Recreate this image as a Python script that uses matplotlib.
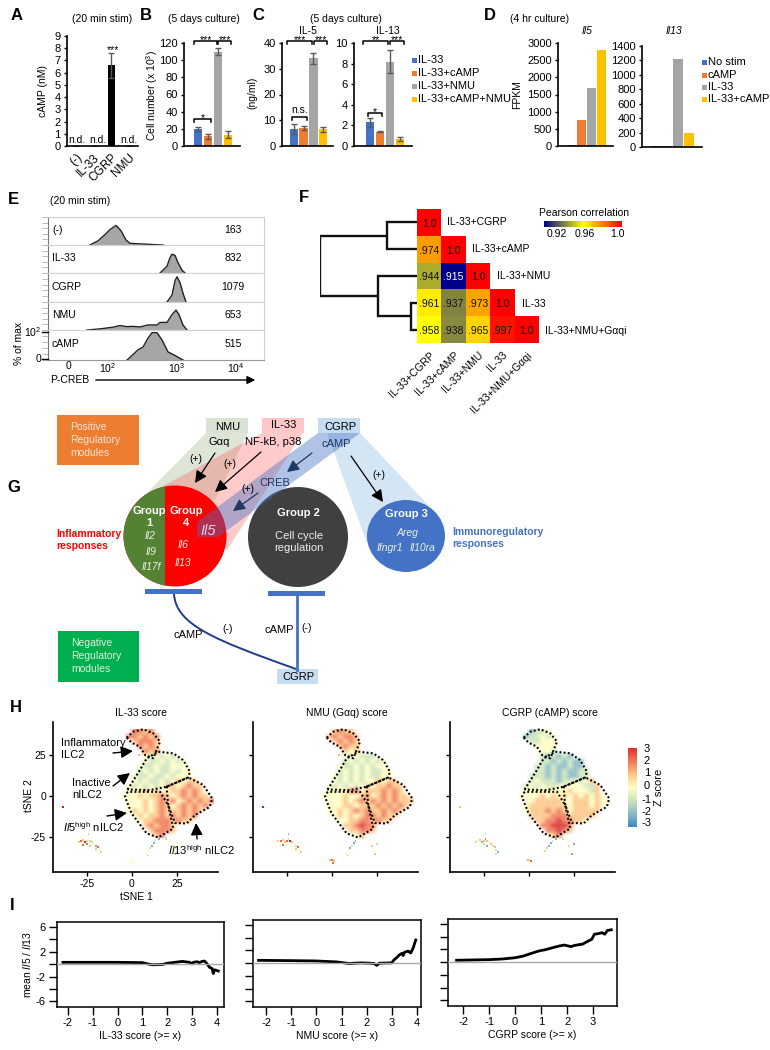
import numpy as np
import matplotlib
matplotlib.use("Agg")
import matplotlib.pyplot as plt
from matplotlib.colors import LinearSegmentedColormap
from matplotlib.patches import Rectangle, Ellipse, Polygon, PathPatch
from matplotlib.path import Path

plt.rcParams['font.family'] = ['Liberation Sans', 'DejaVu Sans']
plt.rcParams['mathtext.fontset'] = 'custom'
plt.rcParams['mathtext.rm'] = 'Liberation Sans'
plt.rcParams['mathtext.it'] = 'Liberation Sans:italic'
plt.rcParams['mathtext.bf'] = 'Liberation Sans:bold'
plt.rcParams['font.size'] = 7.5
plt.rcParams['axes.unicode_minus'] = False

W, H = 770, 1050
BLUE, ORANGE, GRAY, YELLOW = '#4472C4', '#ED7D31', '#A5A5A5', '#FFC000'
BAR_COLORS = [BLUE, ORANGE, GRAY, YELLOW]

# A
camp_labels = ['(-)', 'IL-33', 'CGRP', 'NMU']
camp_vals = [0, 0, 6.6, 0]
camp_err = [0, 0, 1.0, 0]
# B
cells_vals = [20, 11.5, 110, 13]
cells_err = [2.5, 3, 4, 4]
# C
il5_vals = [6.5, 7, 34, 6.5]
il5_err = [2, 0.8, 2.3, 1]
il13_vals = [2.3, 1.4, 8.2, 0.7]
il13_err = [0.45, 0.05, 1.1, 0.2]
c_legend = ['IL-33', 'IL-33+cAMP', 'IL-33+NMU', 'IL-33+cAMP+NMU']
# D
fpkm_il5 = [30, 750, 1700, 2800]
fpkm_il13 = [20, 20, 1220, 195]
d_legend = ['No stim', 'cAMP', 'IL-33', 'IL-33+cAMP']

# E, x in cytometer channels, y in % of max
e_names = ['(-)', 'IL-33', 'CGRP', 'NMU', 'cAMP']
e_mfi = ['163', '832', '1079', '653', '515']
e_x = [
    [21, 29, 36, 41, 47, 52, 57, 61, 71, 94],
    [91, 98, 101, 103, 106, 109, 113, 116],
    [98, 103, 106, 108, 111, 114, 117],
    [18, 31, 44, 51, 58, 64, 71, 79, 88, 91, 98, 103, 107, 110, 114, 118],
    [58, 64, 69, 74, 79, 83, 88, 93, 99, 106, 114],
]
e_y = [
    [0, 15, 37, 55, 70, 51, 18, 6, 4, 0],
    [0, 24, 55, 67, 63, 37, 10, 0],
    [0, 24, 73, 87, 67, 30, 0],
    [0, 4, 10, 16, 12, 13, 11, 18, 18, 27, 27, 55, 71, 55, 18, 0],
    [0, 18, 34, 43, 73, 91, 91, 67, 27, 15, 0],
]

# F
f_labels = ['IL-33+CGRP', 'IL-33+cAMP', 'IL-33+NMU', 'IL-33', 'IL-33+NMU+Gαqi']
f_corr = [
    [1.0, np.nan, np.nan, np.nan, np.nan],
    [.974, 1.0, np.nan, np.nan, np.nan],
    [.944, .915, 1.0, np.nan, np.nan],
    [.961, .937, .973, 1.0, np.nan],
    [.958, .938, .965, .997, 1.0],
]

# H, score maps: rows from tSNE2=39 down to -24 in steps of 3, columns from
# tSNE1=-4.5 in steps of 3, digit 0..6 stands for z score -3..3
h_il33 = [
    "..5545...........", ".554545..........", "..45554..........",
    "...5454..........", "....545..........", "....323232.......",
    "....32232323.....", "...322322333.....", "...2323223233....",
    "..32232232333....", "..323223234344...", ".32323234434544..",
    ".33343433445454..", "3334344543454544.", ".3334345453454545",
    ".333434543454545.", ".34343454445454..", "..343445454545...",
    "...3445554544....", "....454554.......", ".....45554.......",
    "......45.........",
]
h_nmu = [
    "..4544...........", ".454554..........", "..45454..........",
    "...4544..........", "....434..........", "....323222.......",
    "....23232323.....", "...322323233.....", "...2323232233....",
    "..32323232233....", "..323232334344...", ".32323234344544..",
    ".33335534445454..", "3333433453454544.", ".3334345454545444",
    ".333443444545454.", ".33434545445454..", "..343434554544...",
    "...3344554544....", "....445655.......", ".....44554.......",
    "......34.........",
]
h_cgrp = [
    "..1223...........", ".122323..........", "..22333..........",
    "...3333..........", "....332..........", "....212121.......",
    "....22121211.....", "...221211211.....", "...2212121122....",
    "..22212121122....", "..232221223234...", ".23232233333224..",
    ".33333333433324..", "3333434343434343.", ".3344444334443433",
    ".344444443444343.", ".34445454344444..", "..444455544444...",
    "...4455655443....", "....556665.......", ".....55654.......",
    "......45.........",
]
stray_x = [-30, -29, -28, -27, -26, -25, -24, -25, -23, -22, -21, -20, -19, -20, -18,
           -17, -18, -24, -27, -23, 8, 9, 10, 11, 12, 13, 15, 17, 19, 21, 22, 23, 25,
           24, 9, -1, 0, 1, 0.5, -38, 4, 8, -4]
stray_y = [-27, -28, -27, -26.5, -28, -27, -26, -29, -27.5, -28, -29, -30, -31, -32,
           -32.5, -34, -35, -23, -29.5, -30, -35, -33, -31.5, -30, -28.5, -27, -26,
           -25.5, -26, -27, -30, -33, -29, -35, -36, -38.5, -39, -39.5, -40.5, -6.5,
           25, 21, -17]
stray_il33 = "3454623542315432345433211212234334233336423"
stray_nmu = "4352452364325432315333121132334324245456423"
stray_cgrp = "3234145243424321223132211212232311324534323"

out_inflam = [(-2.9, 35.4), (0.7, 39), (6.2, 40.5), (11.8, 38), (15.5, 33), (13.6, 27.9),
              (11.8, 22.9), (7.2, 24.9), (4.4, 29.9), (-0.2, 32.4), (-2.9, 35.4)]
out_upper = [(-2.4, 4), (4.4, 15.8), (8.1, 22.9), (14.5, 26.9), (22.8, 25.9), (28.3, 21.8),
             (32, 14.8), (31.1, 11.3), (19.1, 5.7), (9.9, 3.6), (-2.4, 4)]
out_right = [(19.1, 5.7), (31.1, 11.3), (39.4, 6.7), (44.3, -1.4), (43, -6.5), (34.8, -11.5),
             (30.2, -16.6), (23.7, -16.2), (20, -5.5), (19.1, 5.7)]
out_lower = [(-2.4, 2.6), (-3.9, -0.4), (-0.2, -10.5), (8.1, -22.6), (14.5, -25.1),
             (22.8, -19.6), (20, -5.5), (15.5, 2.6), (-2.4, 2.6)]

# I
i1_x = [-2.2, -1, 0, 1.0, 1.2, 1.4, 1.8, 2.0, 2.2, 2.5, 2.6, 2.8, 2.9, 3.0, 3.05, 3.2, 3.3,
        3.4, 3.5, 3.6, 3.7, 3.8, 3.85, 3.9, 4.05]
i1_y = [.3, .3, .3, .25, .05, -.1, -.05, .15, .25, .4, .45, .35, .3, .05, .3, .4, .25, .45,
        .5, .05, -.5, -.7, -1.5, -.9, -1.1]
i2_x = [-2.3, -1, 0, .8, 1.0, 1.3, 1.5, 1.8, 2.1, 2.3, 2.4, 2.5, 3.0, 3.08, 3.2, 3.3, 3.4,
        3.45, 3.5, 3.6, 3.65, 3.75, 3.85, 3.95]
i2_y = [.45, .4, .35, .2, .1, -.05, 0, .05, 0, -.05, -.35, 0, .05, .5, .9, 1.3, 1.55, 1.2,
        1.7, 1.85, 1.9, 1.6, 2.4, 3.65]
i3_x = [-2.25, -1, -.5, 0, .3, .6, .9, 1.2, 1.5, 1.7, 1.9, 2.15, 2.3, 2.6, 2.8, 2.95, 3.05,
        3.2, 3.35, 3.45, 3.55, 3.7]
i3_y = [.3, .4, .5, .7, .95, 1.35, 1.75, 2, 2.35, 2.55, 2.7, 2.45, 2.65, 2.85, 3.3, 3.6, 4.4,
        4.5, 4.65, 4.4, 5, 5.1]

fig = plt.figure(figsize=(W / 100, H / 100), dpi=100)

z_cmap = LinearSegmentedColormap.from_list(
    'zscore', ['#2b7bba', '#7db4c0', '#c9e2b3', '#ffffc0', '#fdc07a', '#ef6a45', '#d7191c'])


def axpx(x0, y0, x1, y1):
    return fig.add_axes([x0 / W, 1 - y1 / H, (x1 - x0) / W, (y1 - y0) / H])


def bars(x0, y0, x1, y1, vals, err, colors, xlim, ymax, ticks, width=0.85):
    ax = axpx(x0, y0, x1, y1)
    xs = np.arange(len(vals))
    ax.bar(xs, vals, width=width, color=colors)
    if err is not None:
        ax.errorbar(xs, vals, yerr=err, fmt='none', ecolor='#595959', elinewidth=1,
                    capsize=2.5, capthick=1)
    ax.set_xlim(*xlim)
    ax.set_ylim(0, ymax)
    ax.set_yticks(ticks)
    ax.set_xticks([])
    ax.tick_params(axis='y', labelsize=8, length=2.5, width=1, pad=2)
    for s in ['top', 'right']:
        ax.spines[s].set_visible(False)
    for s in ['left', 'bottom']:
        ax.spines[s].set_linewidth(1.2)
    return ax


ax = bars(67, 36, 138, 146, camp_vals, camp_err, 'black', (-0.5, 3.5), 9, range(10), width=0.4)
ax.set_xticks(range(4))
ax.set_xticklabels(camp_labels, rotation=45, ha='right', rotation_mode='anchor', fontsize=8.5)
ax.tick_params(axis='x', length=0, pad=4)
bars(184, 43, 240, 146, cells_vals, cells_err, BAR_COLORS, (-1.4, 4.2), 120, range(0, 121, 20))
bars(282, 43, 333, 146, il5_vals, il5_err, BAR_COLORS, (-1.2, 4), 40, range(0, 41, 10))
bars(354, 43, 412, 146, il13_vals, il13_err, BAR_COLORS, (-1.6, 4.2), 10, range(0, 11, 2))
bars(558, 43, 613, 146, fpkm_il5, None, BAR_COLORS, (-1.35, 4.15), 3000, range(0, 3001, 500))
bars(642, 46, 702, 147, fpkm_il13, None, BAR_COLORS, (-1.27, 4.18), 1400, range(0, 1401, 200))

# E histograms
e_top = [217, 245, 273, 302, 330]
e_bot = [245, 273, 302, 330, 360]
for i in range(5):
    ax = axpx(48, e_top[i], 264, e_bot[i])
    ax.fill_between(e_x[i], e_y[i], color='#a6a6a6', lw=0)
    ax.plot(e_x[i], e_y[i], color='#222222', lw=1)
    ax.set_xlim(-21, 195)
    ax.set_ylim(0, 100)
    ax.set_yticks([0, 20, 40, 60, 80, 100])
    ax.tick_params(axis='y', length=4, width=0.7, color='#bbbbbb', labelleft=False)
    for s in ['top', 'bottom', 'right']:
        ax.spines[s].set_color('#d0d0d0')
    ax.spines['left'].set_color('#777777')
    ax.set_xticks([])
    if i == 4:
        ax.spines['bottom'].set_color('#999999')
        ax.set_xticks([0, 39, 108, 167])
        ax.set_xticklabels(['0', '$10^2$', '$10^3$', '$10^4$'], fontsize=7.5)
        ax.tick_params(axis='x', length=1, width=0.7, color='#888888', pad=0)

# F heatmap
corr_cmap = LinearSegmentedColormap.from_list(
    'corr', [(0, '#00008b'), (0.506, '#ffff00'), (1, '#ff0000')])
ax = axpx(417, 209, 539, 343)
ax.imshow(f_corr, cmap=corr_cmap, vmin=.915, vmax=1.0, aspect='auto')
for i in range(5):
    for j in range(i + 1):
        v = f_corr[i][j]
        txt = '1.0' if v == 1.0 else ('%.3f' % v)[1:]
        ax.text(j, i + 0.05, txt, ha='center', va='center', fontsize=7.5,
                color='white' if v < .92 else '#111111')
ax.set_xticks(range(5))
ax.set_xticklabels(f_labels, rotation=45, ha='right', rotation_mode='anchor', fontsize=7.5)
ax.set_yticks([])
ax.tick_params(axis='x', length=0, pad=5)
for s in ax.spines.values():
    s.set_visible(False)

cax = axpx(544, 221, 622, 227)
cax.imshow(np.linspace(.915, 1, 200)[None, :], cmap=corr_cmap, aspect='auto')
cax.axis('off')

# F dendrogram, x is merge distance, y is leaf row
merge_a = 30
merge_b = 39
merge_c = 5.7
merge_root = 96.7
ax = axpx(320, 209, 417, 343)
ax.set_xlim(97, 0)
ax.set_ylim(4.5, -0.5)
ax.axis('off')
den = dict(color='#111111', lw=1.7, solid_joinstyle='miter', solid_capstyle='butt')
ax.plot([0, merge_a, merge_a, 0], [0, 0, 1, 1], **den)
ax.plot([0, merge_c, merge_c, 0], [3, 3, 4, 4], **den)
ax.plot([0, merge_b, merge_b, merge_c], [2, 2, 3.5, 3.5], **den)
ax.plot([merge_a, merge_root, merge_root, merge_b], [0.5, 0.5, 2.75, 2.75], **den)

# H tSNE maps
h_panels = [(53, h_il33, stray_il33), (253, h_nmu, stray_nmu), (450, h_cgrp, stray_cgrp)]
for k, (x0, score_map, stray) in enumerate(h_panels):
    ax = axpx(x0, 722, x0 + 165, 872)
    # empty cells are white so the smoothing fades into the paper, paled a bit like sparse dots
    rgb = np.ones((len(score_map), 17, 3))
    for r, row in enumerate(score_map):
        for c, ch in enumerate(row):
            if ch != '.':
                rgb[r, c] = 0.78 * np.array(z_cmap((int(ch)) / 6)[:3]) + 0.22
    ax.imshow(rgb, extent=(-6, 45, -25.5, 40.5), interpolation='bilinear', aspect='auto')
    ax.scatter(stray_x, stray_y, c=[int(ch) - 3 for ch in stray], cmap=z_cmap, vmin=-3, vmax=3,
               s=2, marker='s', lw=0)
    for o in [out_inflam, out_upper, out_right, out_lower]:
        ax.plot(*zip(*o), color='black', lw=1.5, ls=(0, (0.9, 1.1)))
    ax.set_xlim(-43.6, 47.5)
    ax.set_ylim(-46, 44.9)
    ax.set_xticks([-25, 0, 25])
    ax.set_yticks([-25, 0, 25])
    ax.tick_params(length=3, width=1, labelsize=7.5, pad=2)
    for s in ['top', 'right']:
        ax.spines[s].set_visible(False)
    for s in ['left', 'bottom']:
        ax.spines[s].set_linewidth(1.2)
    if k > 0:
        ax.set_xticklabels([])
        ax.set_yticklabels([])

cax = axpx(628, 748, 637, 827)
cax.imshow(np.linspace(3, -3, 200)[:, None], cmap=z_cmap, aspect='auto', alpha=0.9)
cax.axis('off')

# I running means
i_panels = [
    (57, 922, 224, 1007, i1_x, i1_y, (-2.44, 4.28), range(-2, 5), 'IL-33 score (>= x)'),
    (253, 920, 421, 1007, i2_x, i2_y, (-2.52, 4.16), range(-2, 5), 'NMU score (>= x)'),
    (448, 919, 617, 1006, i3_x, i3_y, (-2.58, 3.92), range(-2, 4), 'CGRP score (>= x)'),
]
for k, (x0, y0, x1, y1, xv, yv, xl, xt, lab) in enumerate(i_panels):
    ax = axpx(x0, y0, x1, y1)
    ax.axhline(0, color='#aaaaaa', lw=1, zorder=3)
    ax.plot(xv, yv, color='black', lw=2, zorder=2)
    ax.set_xlim(*xl)
    ax.set_ylim(-6.9, 6.8)
    ax.set_xticks(list(xt))
    ax.set_yticks([-6, -4, -2, 0, 2, 4, 6])
    if k == 0:
        ax.set_yticklabels(['-6', '', '-2', '', '2', '', '6'], fontsize=8)
        ax.set_ylabel(r'mean $\mathit{Il5}$ / $\mathit{Il13}$', fontsize=7.5, labelpad=2)
    else:
        ax.set_yticklabels([])
    ax.set_xlabel(lab, fontsize=7.5, labelpad=2)
    ax.tick_params(length=6, width=1, labelsize=8, pad=2)
    for s in ax.spines.values():
        s.set_linewidth(1.1)

# overlay in pixel coordinates for the schematic and all loose text
ov = fig.add_axes([0, 0, 1, 1], zorder=20)
ov.set_xlim(0, W)
ov.set_ylim(H, 0)
ov.axis('off')
ov.patch.set_alpha(0)


def t(x, y, s, ha='center', **kw):
    kw.setdefault('va', 'center')
    ov.text(x, y, s, ha=ha, **kw)


def bracket(x0, x1, y, label=None, ly=None):
    ov.plot([x0, x0, x1, x1], [y + 3, y, y, y + 3], color='black', lw=1.1)
    if label:
        t((x0 + x1) / 2, ly if ly else y - 1, label, fontsize=7.5)


def legend(x, ys, labels):
    for y, lab, col in zip(ys, labels, BAR_COLORS):
        ov.add_patch(Rectangle((x, y - 2.5), 5, 5, color=col, lw=0))
        t(x + 6, y, lab, ha='left', fontsize=8)


for x, y, s in [(17, 16, 'A'), (146, 16, 'B'), (258, 16, 'C'), (490, 16, 'D'), (13, 199, 'E'),
                (304, 197, 'F'), (14, 487, 'G'), (16, 707, 'H'), (12, 905, 'I')]:
    t(x, y, s, fontsize=12, fontweight='bold')

t(102, 19, '(20 min stim)')
t(204, 19, '(5 days culture)')
t(346, 19, '(5 days culture)')
t(540, 19, '(4 hr culture)')
t(308, 31, 'IL-5')
t(388, 31, 'IL-13')
t(587, 31, 'Il5', style='italic')
t(674, 31, 'Il13', style='italic')
t(43, 91, 'cAMP (nM)', rotation=90, fontsize=7.5)
t(152, 95, r'Cell number (x $10^3$)', rotation=90, fontsize=7.5)
t(252, 93, '(ng/ml)', rotation=90, fontsize=7.5)
t(517, 95, 'FPKM', rotation=90, fontsize=7.5)
t(113, 50, '***')
for x in [77, 98, 129]:
    t(x, 140, 'n.d.')
bracket(194, 217, 41, '***')
bracket(218, 231, 41, '***')
bracket(194, 211, 119, '*')
bracket(287, 312, 41, '***')
bracket(314, 327, 41, '***')
bracket(292, 307, 117, 'n.s.', ly=110)
bracket(363, 388, 41, '**')
bracket(390, 404, 41, '***')
bracket(368, 382, 113, '*')
legend(412, [60, 73, 86, 99], c_legend)
legend(702, [62, 75, 87, 99], d_legend)

# E text
t(50, 201, '(20 min stim)', ha='left')
for i in range(5):
    ymid = (e_top[i] + e_bot[i]) / 2 - 1
    t(52, ymid, e_names[i], ha='left')
    t(233, ymid, e_mfi[i])
t(19, 343, '% of max', rotation=90)
t(41, 332, '$10^2$', ha='right')
t(41, 359, '0', ha='right')
ov.plot([42, 48], [332, 332], color='black', lw=1)
ov.plot([42, 48], [359, 359], color='black', lw=1)
t(50, 380, 'P-CREB', ha='left')
ov.annotate('', xy=(258, 380), xytext=(93, 380),
            arrowprops=dict(arrowstyle='-|>', color='black', lw=1, mutation_scale=12))

# F text
for y, x, lab in zip([222, 249, 276, 304, 331], [447, 472, 497, 522, 545], f_labels):
    t(x, y, lab, ha='left')
t(584, 213, 'Pearson correlation')
t(557, 234, '0.92')
t(585, 234, '0.96')
t(617, 234, '1.0')

# G schematic
ov.add_patch(Rectangle((57, 415), 82, 50, color=ORANGE, lw=0))
ov.add_patch(Rectangle((58, 631), 81, 51, color='#00B050', lw=0))
t(70, 440, 'Positive\nRegulatory\nmodules', ha='left', color='#fbe5d6', linespacing=1.35)
t(71, 656, 'Negative\nRegulatory\nmodules', ha='left', color='#e2f0d9', linespacing=1.35)

ov.add_patch(Polygon([(206, 433), (248, 433), (215, 500), (148, 492)], color='#c5d5bc', alpha=0.6, lw=0))
ov.add_patch(Polygon([(262, 433), (303, 433), (227, 550), (163, 486)], color='#ff5050', alpha=0.3, lw=0))
ov.add_patch(Polygon([(327, 433), (360, 433), (430, 507), (367, 543)], color='#bdd7ee', alpha=0.65, lw=0))

circ = Ellipse((175, 536), 103, 101, color='#ff0000', lw=0)
ov.add_patch(circ)
half = Rectangle((120, 480), 45, 110, color='#548235', lw=0)
ov.add_patch(half)
half.set_clip_path(circ)
ov.add_patch(Ellipse((298, 537), 100, 100, color='#404040', lw=0))
ov.add_patch(Ellipse((406, 536), 78, 72, color=BLUE, lw=0))
ov.add_patch(Polygon([(318, 433), (360, 433), (218, 537), (197, 537), (197, 522)],
                     color=BLUE, alpha=0.42, lw=0))

for x, col, lab, ly in [(206, '#dae3d3', 'NMU', 427), (262, '#ffc7c7', 'IL-33', 425), (318, '#c6dcf0', 'CGRP', 427)]:
    ov.add_patch(Rectangle((x, 418), 42, 15, color=col, lw=0))
    t(x + 22, ly, lab, fontsize=8)
ov.add_patch(Rectangle((277, 669), 41, 15, color='#c6dcf0', lw=0))
t(298, 677, 'CGRP', fontsize=8)

t(219, 442, 'Gαq', fontsize=8)
t(273, 442, 'NF-kB, p38', fontsize=8)
t(336, 444, 'cAMP', color='#1f3864', fontsize=8)
t(275, 483, 'CREB', color='#1f3864', fontsize=8)
t(196, 459, '(+)')
t(230, 464, '(+)')
t(248, 489, '(+)')
t(379, 475, '(+)')

for x0, y0, x1, y1, col in [(215, 453, 195, 483, 'black'), (261, 452, 215, 492, 'black'),
                            (312, 453, 287, 472, '#1f3864'), (258, 493, 233, 511, '#1f3864'),
                            (351, 456, 383, 502, 'black')]:
    ov.annotate('', xy=(x1, y1), xytext=(x0, y0),
                arrowprops=dict(arrowstyle='-|>', color=col, lw=0.9, mutation_scale=18,
                                shrinkA=0, shrinkB=0))

wb = dict(color='white', fontweight='bold', fontsize=8)
t(149, 517, 'Group\n1', **wb)
t(186, 517, 'Group\n4', **wb)
t(298, 513, 'Group 2', **wb)
t(406, 514, 'Group 3', **wb)
it = dict(color='#e8f0e0', style='italic', fontsize=7.5)
t(150, 536, 'Il2', **it)
t(151, 552, 'Il9', **it)
t(151, 567, 'Il17f', **it)
t(183, 545, 'Il6', **it)
t(183, 563, 'Il13', **it)
t(208, 531, 'Il5', color='#d9d2e9', style='italic', fontsize=10.5)
t(299, 542, 'Cell cycle\nregulation', color='#eeeeee', fontsize=8, linespacing=1.25)
t(407, 533, 'Areg', **it)
t(390, 548, 'Ifngr1', **it)
t(423, 548, 'Il10ra', **it)
t(56, 540, 'Inflammatory\nresponses', ha='left', color='#ff0000', fontweight='bold', fontsize=7.5, linespacing=1.25)
t(452, 538, 'Immunoregulatory\nresponses', ha='left', color=BLUE, fontweight='bold', fontsize=7.5, linespacing=1.25)

ov.add_patch(Rectangle((145, 589), 57, 5, color=BLUE, lw=0))
ov.add_patch(Rectangle((268, 591), 57, 5, color=BLUE, lw=0))
ov.plot([297, 297], [596, 670], color=BLUE, lw=2)
ov.add_patch(PathPatch(Path([(174, 594), (176, 625), (215, 640), (296, 669)],
                            [Path.MOVETO, Path.CURVE4, Path.CURVE4, Path.CURVE4]),
                       fc='none', ec='#1f3c88', lw=1.4))
t(188, 635, 'cAMP', fontsize=8)
t(228, 629, '(-)')
t(279, 630, 'cAMP', fontsize=8)
t(307, 628, '(-)')

# H text
t(141, 713, 'IL-33 score')
t(347, 713, 'NMU (Gαq) score')
t(550, 713, 'CGRP (cAMP) score')
t(29, 796, 'tSNE 2', rotation=90)
t(136, 897, 'tSNE 1')
t(61, 749, 'Inflammatory\nILC2', ha='left', linespacing=1.2, fontsize=8)
t(72, 789, 'Inactive\nnILC2', ha='left', linespacing=1.2, fontsize=8)
t(63, 827, r'$\mathit{Il5}^{\mathrm{high}}$ nILC2', ha='left', fontsize=8)
t(168, 850, r'$\mathit{Il13}^{\mathrm{high}}$ nILC2', ha='left', fontsize=8)
for x0, y0, x1, y1 in [(113, 753, 133, 751), (113, 786, 130, 773), (107, 816, 127, 813), (197, 839, 196, 823)]:
    ov.annotate('', xy=(x1, y1), xytext=(x0, y0),
                arrowprops=dict(arrowstyle='-|>', color='black', lw=1, mutation_scale=18,
                                shrinkA=0, shrinkB=0))
for y, s in zip([749, 761, 773, 786, 800, 812, 823], ['3', '2', '1', '0', '-1', '-2', '-3']):
    t(647, y, s, fontsize=8)
t(659, 787, 'Z score', rotation=90, fontsize=8)

fig.savefig('out.png', dpi=100)
